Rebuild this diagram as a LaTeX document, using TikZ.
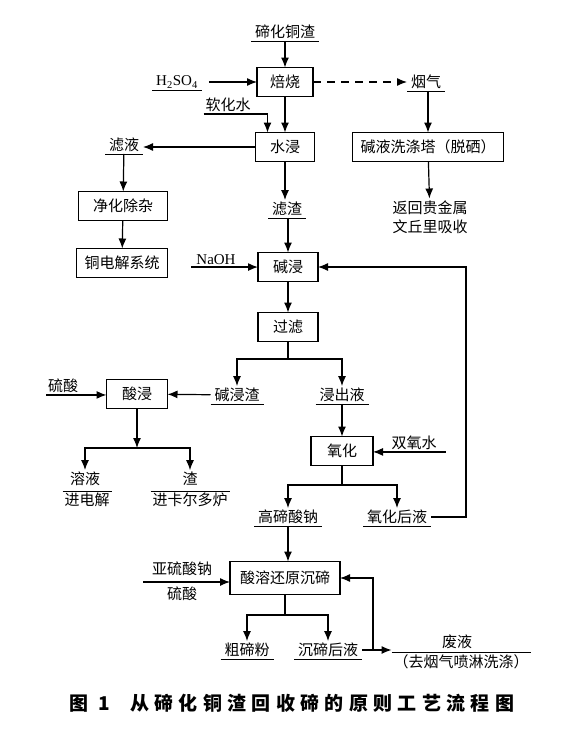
\documentclass[tikz,border=0pt]{standalone}
\usepackage{fontspec}
\setmainfont{Liberation Serif}
\newfontfamily\cjk{Noto Sans CJK SC}
\newfontfamily\cjkcap{Noto Sans CJK SC}[LetterSpace=28]
\usetikzlibrary{arrows.meta}

\tikzstyle{main} = [inner sep=0pt, outer sep=0pt, text centered, font=\cjk\fontsize{15}{19}\selectfont]
\tikzstyle{box}  = [main, draw, line width=1.7pt, minimum height=29pt]
\tikzstyle{lbl}  = [main, inner sep=2pt]
\tikzstyle{ul}   = [lbl, inner xsep=4pt, append after command={(\tikzlastnode.south west) edge[line width=0.8pt] (\tikzlastnode.south east)}]
\tikzstyle{flow} = [line width=1.2pt, -{Latex[length=10pt,width=8pt]}]
\tikzstyle{wire} = [line width=1.2pt]

\begin{document}
\begin{tikzpicture}[x=1pt, y=-1pt]
  \fill[white] (0,0) rectangle (567,734);
  \useasboundingbox (0,0) rectangle (567,734);

  % roasting and water leach
  \draw
    node[ul]                     (tcz)  at (285,32)  {碲化铜渣}
    node[box, minimum width=56pt] (bs)  at (285,82)  {焙烧}
    node[ul, font=\fontsize{15}{19}\selectfont] (hso) at (177,82) {H\textsubscript{2}SO\textsubscript{4}}
    node[ul]                     (yq)   at (426,82)  {烟气}
    node[lbl]                    (rhs)  at (228,105) {软化水}
    node[box, minimum width=59pt] (sj)  at (285,147) {水浸}
    node[box, minimum width=151pt] (jyx) at (428,147) {碱液洗涤塔（脱硒）}
    node[lbl, align=center]      (fhgj) at (430,217) {返回贵金属\\文丘里吸收}
    node[ul]                     (ly)   at (124,145) {滤液}
    node[box, minimum width=89pt] (jhcz) at (123,206) {净化除杂}
    node[box, minimum width=91pt] (tdj) at (122,263) {铜电解系统}
    node[ul]                     (lz)   at (287,209) {滤渣};

  % alkaline leach
  \draw
    node[box, minimum width=60pt] (jj)  at (288,267) {碱浸}
    node[lbl, font=\fontsize{15}{19}\selectfont] (naoh) at (216,260) {NaOH}
    node[box, minimum width=60pt] (gl)  at (288,327) {过滤}
    node[ul]                     (jjz)  at (237,395) {碱浸渣}
    node[ul]                     (jcy)  at (342,395) {浸出液}
    node[box, minimum width=61pt] (suanj) at (137,394) {酸浸}
    node[lbl]                    (lsa)  at (63,386)  {硫酸}
    node[lbl]                    (ry)   at (85,479)  {溶液}
    node[lbl]                    (jdj)  at (87,500)  {进电解}
    node[lbl]                    (zha)  at (190,479) {渣}
    node[lbl]                    (jkr)  at (190,500) {进卡尔多炉}
    node[box, minimum width=62pt] (yh)  at (342,451) {氧化}
    node[lbl]                    (syh)  at (414,443) {双氧水}
    node[ul]                     (gtsn) at (288,517) {高碲酸钠}
    node[ul]                     (yhhy) at (397,517) {氧化后液};

  % reduction
  \draw
    node[box, minimum width=110pt, minimum height=33pt] (cd) at (285,578) {酸溶还原沉碲}
    node[lbl]                    (yls)  at (182,569) {亚硫酸钠}
    node[lbl]                    (lsb)  at (182,594) {硫酸}
    node[ul]                     (ctf)  at (247,650) {粗碲粉}
    node[ul]                     (cdhy) at (328,650) {沉碲后液}
    node[lbl]                    (fy)   at (457,642) {废液}
    node[lbl]                    (fyb)  at (461,662) {（去烟气喷淋洗涤）}
    node[lbl, font=\cjkcap\bfseries\fontsize{19}{21}\selectfont] (cap) at (292,703)
      {图 1\hspace{20pt}从碲化铜渣回收碲的原则工艺流程图};

  \coordinate (s1) at (288,359);
  \coordinate (s2) at (137,448);
  \coordinate (s3) at (342,485);
  \coordinate (s4) at (285,615);
  \coordinate (s5) at (143,582);
  \coordinate (j1) at (373,650);

  \draw[flow] (tcz) -- (bs);
  \draw[flow] ([xshift=7pt]hso.east) -- (bs);
  \draw[flow, dash pattern=on 8pt off 6pt] (bs) -- (yq);
  \draw[flow] (yq.south -| jyx.north) -- (jyx.north);
  \draw[flow] (jyx) -- (fhgj);
  \draw[flow] (rhs.south west) -| ([xshift=12pt]sj.north west);
  \draw[flow] (bs) -- (sj);
  \draw[flow] (sj.west) -- (sj.west -| ly.east);
  \draw[flow] (ly) -- (jhcz);
  \draw[flow] (jhcz) -- (tdj);
  \draw[flow] (sj.south) -- (sj.south |- lz.north);
  \draw[flow] (lz.south -| jj.north) -- (jj.north);
  \draw[flow] ([xshift=-3pt]naoh.south west) -- (naoh.south west -| jj.west);
  \draw[flow] (jj) -- (gl);
  \draw[wire] (gl) -- (s1);
  \draw[flow] (s1) -| (jjz);
  \draw[flow] (s1) -| (jcy);
  \draw[flow] (jjz) -- (suanj);
  \draw[flow] (lsa.south west) -- (lsa.south west -| suanj.west);
  \draw[flow] (suanj) -- (s2);
  \draw[flow] (s2) -| (ry);
  \draw[flow] (s2) -| (zha);
  \draw[line width=0.8pt] (jdj.north west) -- (jdj.north east);
  \draw[line width=0.8pt] (jkr.north west) -- (jkr.north east);
  \draw[flow] (jcy) -- (yh);
  \draw[flow] ([xshift=7pt]syh.south east) -- (syh.south east -| yh.east);
  \draw[wire] (yh) -- (s3);
  \draw[flow] (s3) -| (gtsn);
  \draw[flow] (s3) -| (yhhy);
  \draw[flow] (yhhy.east) -- ++(35,0) |- (jj.east);
  \draw[flow] (gtsn) -- (gtsn |- cd.north);
  \draw[flow] (s5) -- (s5 -| cd.west);
  \draw[wire] (cd) -- (s4);
  \draw[flow] (s4) -| (ctf);
  \draw[flow] (s4) -| (cdhy);
  \draw[line width=0.8pt] (fyb.north west) -- (fyb.north east);
  \draw[flow] (cdhy.east) -- (cdhy.east -| fyb.west);
  \draw[flow] (j1) |- (cd.east);
\end{tikzpicture}
\end{document}
